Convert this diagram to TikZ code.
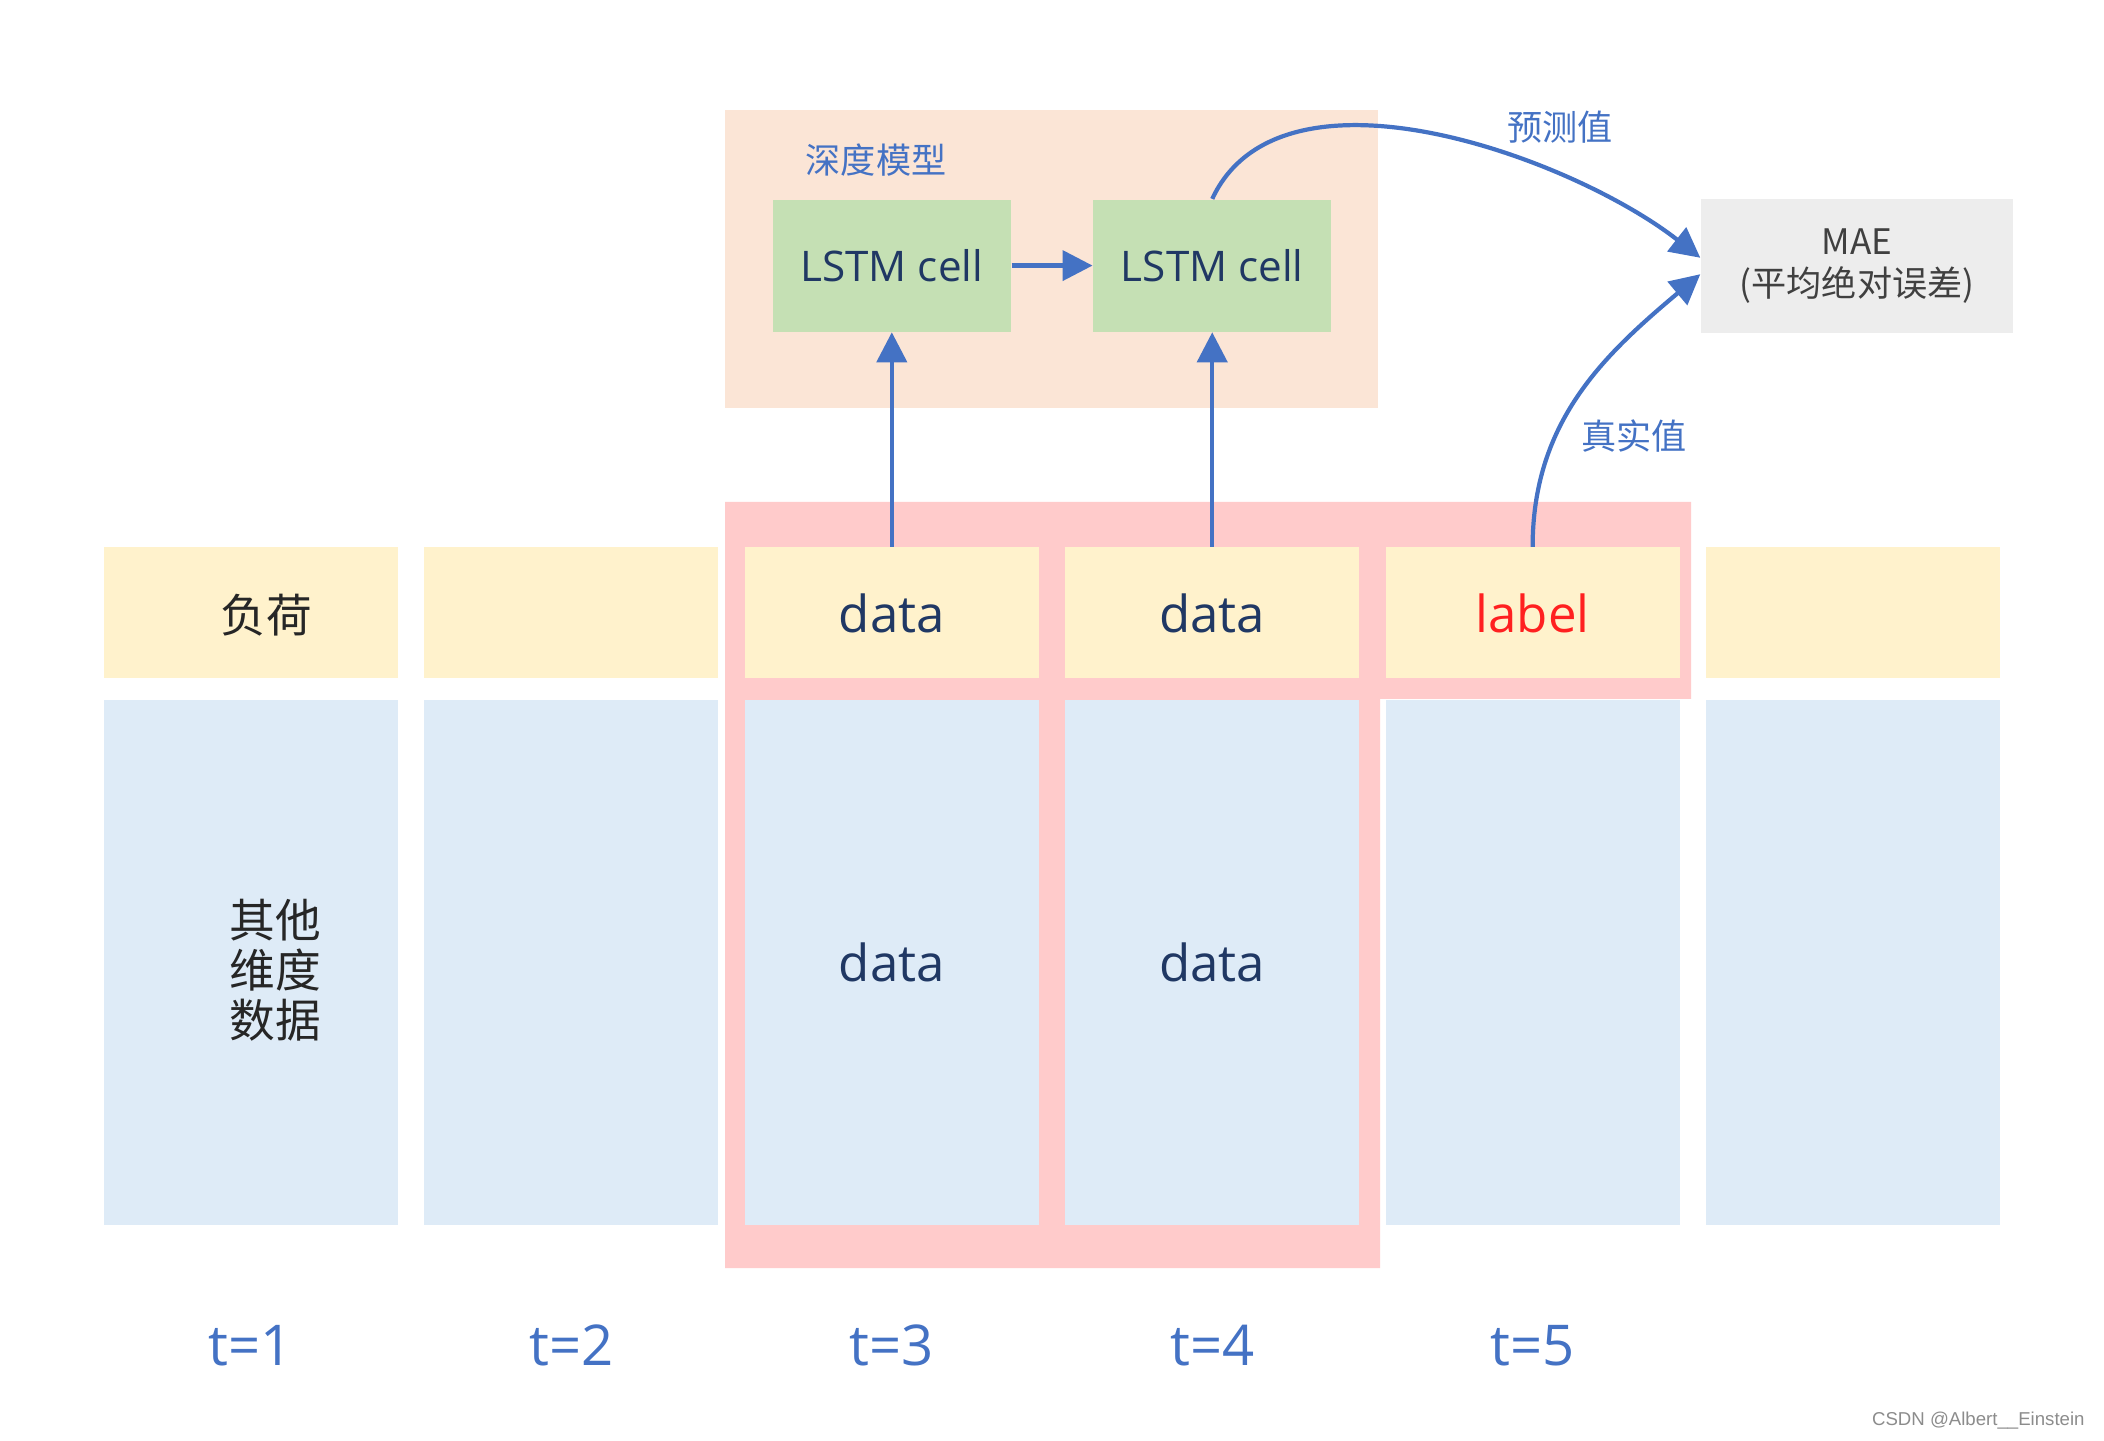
\documentclass[tikz,border=0pt]{standalone}
\usepackage{fontspec}
\setmainfont{Open Sans}
\newfontfamily\cjk{Noto Sans CJK SC}
\newfontfamily\markfont{Liberation Sans}
\usepackage{xcolor}
\usetikzlibrary{positioning, arrows.meta, calc}

\definecolor{loadyellow}{HTML}{FFF2CC}
\definecolor{featblue}{HTML}{DEEBF7}
\definecolor{windowpink}{HTML}{FFCBCB}
\definecolor{modelbg}{HTML}{FBE5D6}
\definecolor{lstmgreen}{HTML}{C5E0B4}
\definecolor{maegray}{HTML}{EDEDED}
\definecolor{flowblue}{HTML}{4472C4}
\definecolor{datanavy}{HTML}{203864}
\definecolor{labelred}{HTML}{FF2020}

\begin{document}
\begin{tikzpicture}[
    node distance=0.2cm and 0.25cm,
    box/.style={rectangle, inner sep=0pt, minimum width=2.94cm, align=center},
    load/.style={box, fill=loadyellow, minimum height=1.31cm},
    feat/.style={box, fill=featblue, minimum height=5.25cm},
    cell/.style={box, fill=lstmgreen, minimum width=2.38cm, minimum height=1.32cm,
                 text=datanavy, font=\fontsize{12}{14}\selectfont},
    datatext/.style={text=datanavy, font=\fontsize{14.5}{17}\selectfont},
    cjktext/.style={text=black!85, align=center, font=\cjk\fontsize{13}{14.2}\selectfont},
    note/.style={text=flowblue, font=\cjk\fontsize{10}{12}\selectfont},
    tstep/.style={text=flowblue, font=\fontsize{16}{19}\selectfont},
    arrow/.style={-{Triangle[length=0.3cm, width=0.3cm]}, flowblue, line width=1.2pt}
]
\useasboundingbox (0,0) rectangle (21.04,14.40);
% Window — input steps and label
\fill[windowpink] (7.25,9.38) -- (16.91,9.38) -- (16.91,7.41) -- (13.80,7.41)
      -- (13.80,1.72) -- (7.25,1.72) -- cycle;
% Model
\node[fill=modelbg, minimum width=6.53cm, minimum height=2.98cm] (model) at (10.515,11.81) {};
\node[note] (model_t) at (8.76,12.80) {深度模型};
% Time steps
\node[load] (y1) at (2.51,8.27) {};
\node[load, right=of y1] (y2) {};
\node[load, datatext, right=of y2] (y3) {data};
\node[load, datatext, right=of y3] (y4) {data};
\node[load, datatext, text=labelred, right=of y4] (y5) {label};
\node[load, right=of y5] (y6) {};
\node[feat, below=of y1] (b1) {};
\node[feat, below=of y2] (b2) {};
\node[feat, datatext, below=of y3] (b3) {data};
\node[feat, datatext, below=of y4] (b4) {data};
\node[feat, below=of y5] (b5) {};
\node[feat, below=of y6] (b6) {};
\node[cjktext] (load_t) at ($(y1)+(0.15,-0.02)$) {负荷};
\node[cjktext] (feat_t) at ($(b1)+(0.24,-0.08)$) {其他\\维度\\数据};
\node[tstep, below=0.87cm of b1] (t1) {t=1};
\node[tstep, below=0.87cm of b2] (t2) {t=2};
\node[tstep, below=0.87cm of b3] (t3) {t=3};
\node[tstep, below=0.87cm of b4] (t4) {t=4};
\node[tstep, below=0.87cm of b5] (t5) {t=5};
% LSTM cells and loss
\node[cell, above=2.145cm of y3] (lstm1) {LSTM cell};
\node[cell, above=2.145cm of y4] (lstm2) {LSTM cell};
\node[box, fill=maegray, minimum width=3.12cm, minimum height=1.34cm,
      text=black!75, font=\cjk\fontsize{10}{11.8}\selectfont] (mae) at (18.57,11.74)
      {MAE\\(平均绝对误差)};
\draw[arrow] (lstm1) -- (lstm2);
\draw[arrow] (y3) -- (lstm1);
\draw[arrow] (y4) -- (lstm2);
\draw[arrow] (lstm2.north) to[out=65, in=142, looseness=0.85] (mae.177);
\draw[arrow] (y5.north) to[out=90, in=220] (mae.183);
\node[note] (pred_t) at (15.60,13.13) {预测值};
\node[note] (true_t) at (16.34,10.04) {真实值};
% Watermark
\node[text=black!45, font=\markfont\fontsize{5.3}{6}\selectfont, anchor=east] (mark)
      at (20.97,0.19) {CSDN @Albert\_\_Einstein};
\end{tikzpicture}
\end{document}
